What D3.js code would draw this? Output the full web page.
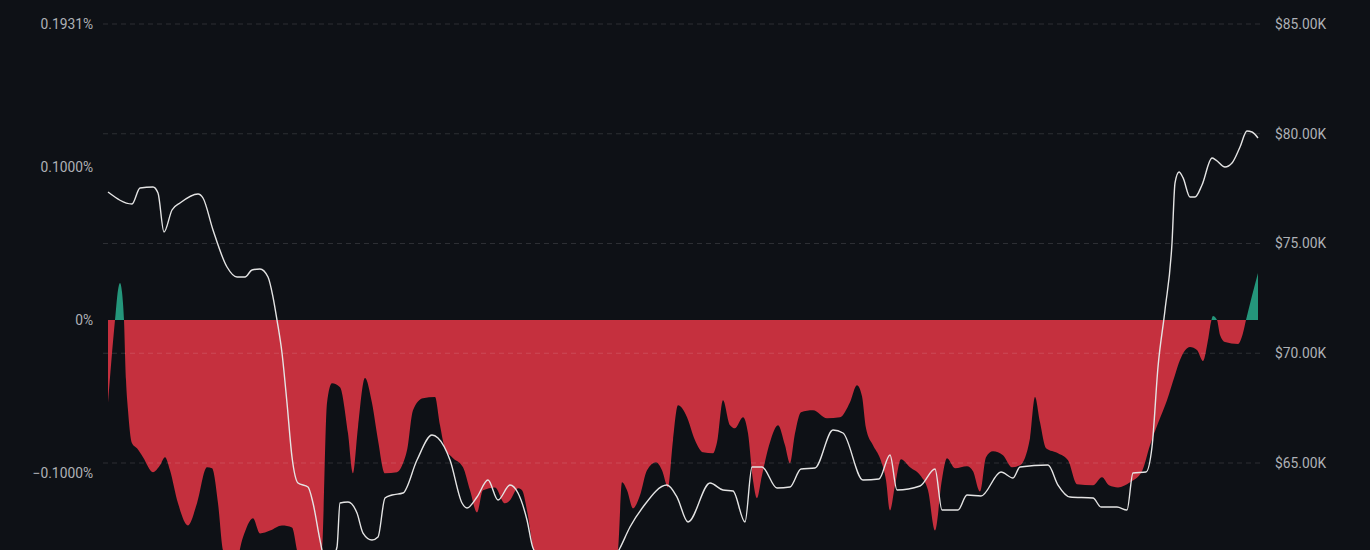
<!DOCTYPE html>
<html>
<head>
<meta charset="utf-8">
<script src="https://cdn.jsdelivr.net/npm/d3@7"></script>
<style>
  html, body { margin: 0; padding: 0; background: #0e1116; overflow: hidden; }
  svg { display: block; }
</style>
</head>
<body>
<svg id="chart" width="1370" height="550"></svg>
<script>
// ---- data (time in hours from start) ----
const priceT = [0,4.8,6.4,9,10,11.2,12.8,14.4,18,19,21,23.8,25.8,27.4,28.8,30.4,32,33,33.8,34.8,35.8,36.8,38,40,41,42.4,43.8,45.8,46.4,48,49.8,51,52.8,54,55.4,56.8,59,61.8,64.8,66,68.4,70.8,71.8,73.8,76,78,80.4,82,83.8,85,93.4,102.4,104.4,107,111.8,113.8,116,120.4,123,125,127.4,128.8,130.8,133.8,136.4,138.6,141.4,145,147,151,154.2,156.4,157.8,162.4,165.4,166.8,170,171.8,174.6,178.6,181,182.4,188,190,192.4,197,198.6,201.8,203.8,205,207.6,208.8,210,211.4,212.8,213.4,214.2,215,216.4,217.4,218.8,220.8,221.6,223.4,224.8,226.4,227.8,228.8,230];
const priceV = [77346,76799,77528,77574,77300,75524,76526,76845,77255,77073,75615,73929,73473,73473,73792,73838,73473,72562,71514,70011,67733,65273,64088,63906,63177,61491,60215,61172,63177,63222,62721,61810,61491,61628,63405,63541,63632,65136,66275,66138,65136,63177,62949,63450,64225,63313,63997,63632,62402,61127,58985,61127,62083,62995,63997,63450,62311,64088,63769,63723,62311,64817,64817,63860,63906,64726,64772,66503,66366,64225,64270,65364,63769,63951,64726,62858,62858,63541,63496,64589,64316,64817,64908,63997,63450,63405,62995,62995,62858,64544,64589,65728,69373,71970,75023,77756,78257,78000,77118,77118,77665,78895,78800,78485,78667,79396,80125,80080,79806];

const fundT = [0,1.4,2,2.4,2.8,3.2,3.6,4,4.8,5.8,7,9,10.4,11.4,12.4,14,16,17.8,19.8,20.8,22,23,25,27,29,30.4,32.4,34.8,36.8,37.8,39.4,41.4,42.8,43.8,44.8,46.4,48,49,50,51.4,52.8,54,55.4,57.8,59,59.8,61,63,65.4,66.4,67.4,68.8,71,72.4,73.8,75,77.4,79.4,80.4,82,82.8,83.8,85,87.4,93.4,99.4,102,102.8,103.8,105,106.4,107.8,109.6,110.8,112,113,114,115.8,117.4,119,121,121.8,123,124.4,125.4,127,128,129,129.8,130.8,132.4,134,135.4,136.4,137.4,138.6,141,143.8,146.4,148.4,149.8,150.8,151.6,153,154.4,155.6,156.4,157.4,158.6,160.4,162.6,164,165.4,166.8,167.8,169.4,171.8,173,174.4,175.6,177,179,180.8,182.4,184.4,185.4,186.4,187.6,190,192,193.8,197,198.8,200.2,202,204.4,206.8,208.4,210,211.8,213.4,214.4,216.4,217.8,219,220,220.6,221,221.8,222.4,223.4,226,227,227.6,230];
const fundV = [-0.0540,0,0.0196,0.0242,0.0183,0,-0.0392,-0.0588,-0.0804,-0.0837,-0.0895,-0.0993,-0.0948,-0.0895,-0.0980,-0.1196,-0.1340,-0.1196,-0.0961,-0.0967,-0.1196,-0.1503,-0.1647,-0.1418,-0.1294,-0.1392,-0.1373,-0.1340,-0.1353,-0.1503,-0.1765,-0.1765,-0.1503,-0.0542,-0.0412,-0.0438,-0.0739,-0.1000,-0.0699,-0.0379,-0.0542,-0.0784,-0.1000,-0.0993,-0.0935,-0.0850,-0.0588,-0.0510,-0.0503,-0.0686,-0.0837,-0.0895,-0.0961,-0.1111,-0.1255,-0.1111,-0.1092,-0.1196,-0.1176,-0.1098,-0.1111,-0.1242,-0.1490,-0.1830,-0.2092,-0.1830,-0.1503,-0.1059,-0.1111,-0.1229,-0.1144,-0.0980,-0.0928,-0.0980,-0.1092,-0.0784,-0.0556,-0.0634,-0.0784,-0.0863,-0.0869,-0.0797,-0.0523,-0.0686,-0.0706,-0.0634,-0.0739,-0.1046,-0.1163,-0.1013,-0.0797,-0.0686,-0.0817,-0.0935,-0.0739,-0.0601,-0.0588,-0.0641,-0.0634,-0.0536,-0.0425,-0.0497,-0.0706,-0.0817,-0.0902,-0.1046,-0.1242,-0.1078,-0.0908,-0.0961,-0.1020,-0.1111,-0.1373,-0.1039,-0.0902,-0.0967,-0.0954,-0.0987,-0.1118,-0.0895,-0.0856,-0.0882,-0.0961,-0.0948,-0.0771,-0.0503,-0.0667,-0.0837,-0.0869,-0.0915,-0.1072,-0.1078,-0.1026,-0.1078,-0.1092,-0.1059,-0.0987,-0.0817,-0.0673,-0.0523,-0.0359,-0.0261,-0.0176,-0.0196,-0.0268,-0.0131,-0.0013,0.0026,0,-0.0098,-0.0144,-0.0157,-0.0085,0,0.0307];

const fundTicks = [0.1931, 0.1, 0, -0.1];
const priceTicks = [65000, 70000, 75000, 80000, 85000];

// ---- chart ----
const svg = d3.select("#chart");
const x = d3.scaleLinear().domain([0, 230]).range([108, 1258]);
const yF = d3.scaleLinear().domain([0, 0.1931]).range([320, 24]);
const yP = d3.scaleLinear().domain([65000, 85000]).range([463, 24]);

const fund = fundT.map((t, i) => ({t, v: fundV[i]}));
const price = priceT.map((t, i) => ({t, v: priceV[i]}));

const defs = svg.append("defs");
defs.append("clipPath").attr("id", "above").append("rect")
  .attr("x", 0).attr("y", 0).attr("width", 1370).attr("height", yF(0));
defs.append("clipPath").attr("id", "below").append("rect")
  .attr("x", 0).attr("y", yF(0)).attr("width", 1370).attr("height", 1000);

const area = d3.area()
  .x(d => x(d.t)).y0(yF(0)).y1(d => yF(d.v))
  .curve(d3.curveMonotoneX);

svg.append("path").datum(fund).attr("d", area)
  .attr("fill", "#c5303e").attr("clip-path", "url(#below)");
svg.append("path").datum(fund).attr("d", area)
  .attr("fill", "#24967b").attr("clip-path", "url(#above)");

// gridlines (price axis)
svg.append("g").selectAll("line").data(priceTicks).join("line")
  .attr("x1", 103).attr("x2", 1263)
  .attr("y1", d => yP(d)).attr("y2", d => yP(d))
  .attr("stroke", "rgba(255,255,255,0.13)")
  .attr("stroke-width", 1)
  .attr("stroke-dasharray", "5,4");

// price line
const line = d3.line().x(d => x(d.t)).y(d => yP(d.v)).curve(d3.curveMonotoneX);
svg.append("path").datum(price).attr("d", line)
  .attr("fill", "none").attr("stroke", "#e4e4e4").attr("stroke-width", 1.4);

// left axis
const leftAxis = d3.axisLeft(yF).tickValues(fundTicks).tickSize(0).tickPadding(0)
  .tickFormat(d => d === 0 ? "0%" : d3.format(".4f")(d) + "%");
const gl = svg.append("g").attr("transform", "translate(93,0)").call(leftAxis);
gl.select(".domain").remove();
gl.selectAll("text").attr("fill", "#aeb1b6").attr("font-family", "Roboto, 'Noto Sans', sans-serif").attr("font-size", 13.8);

// right axis
const rightAxis = d3.axisRight(yP).tickValues(priceTicks).tickSize(0).tickPadding(0)
  .tickFormat(d => "$" + d3.format(".2f")(d / 1000) + "K");
const gr = svg.append("g").attr("transform", "translate(1275,0)").call(rightAxis);
gr.select(".domain").remove();
gr.selectAll("text").attr("fill", "#aeb1b6").attr("font-family", "Roboto, 'Noto Sans', sans-serif").attr("font-size", 13.8);
</script>
</body>
</html>
